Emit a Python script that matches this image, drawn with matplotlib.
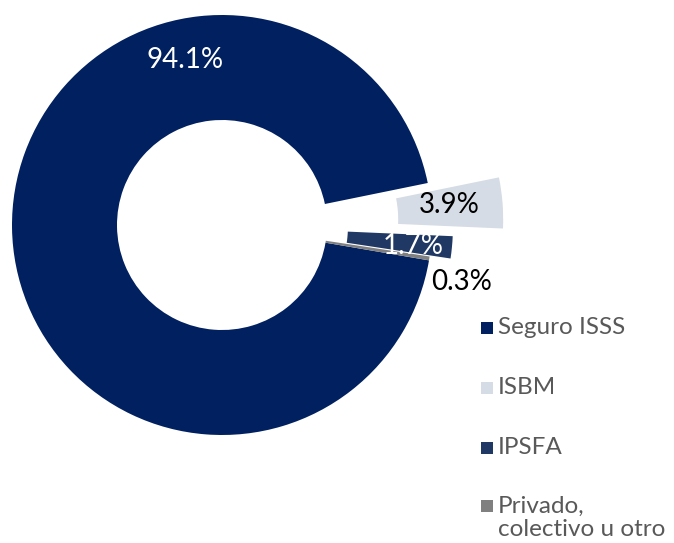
import matplotlib.pyplot as plt
from matplotlib.patches import Rectangle

plt.rcParams['font.family'] = ['Lato', 'DejaVu Sans']

labels = ['Seguro ISSS', 'ISBM', 'IPSFA', 'Privado,\ncolectivo u otro']
values = [94.1, 3.9, 1.7, 0.3]
colors = ['#002060', '#D6DCE5', '#203864', '#808080']
explode = [0, 0.34, 0.1, 0]

# label text, colour and position (data units, pie radius = 1)
pct_text = ['94.1%', '3.9%', '1.7%', '0.3%']
pct_color = ['white', 'black', 'white', 'black']
pct_pos = [(-0.176, 0.786), (1.081, 0.095), (0.910, -0.100), (1.143, -0.271)]

W, H = 674, 543
fig = plt.figure(figsize=(W / 100, H / 100), dpi=100)
ax = fig.add_axes([0, 0, 1, 1])

ax.pie(values, colors=colors, explode=explode, startangle=-9.7,
       counterclock=False, radius=1,
       wedgeprops=dict(width=0.5, linewidth=0))

for txt, c, (x, y) in zip(pct_text, pct_color, pct_pos):
    ax.text(x, y, txt, color=c, fontsize=20, ha='center', va='center')

# centre of the ring at (222, 225) px, radius 210 px
cx, cy, R = 222, 225, 210
ax.set_aspect('auto')
ax.set_xlim(-cx / R, (W - cx) / R)
ax.set_ylim(-(H - cy) / R, cy / R)
ax.axis('off')

# legend
leg_y = [327, 387, 447, 505]
for lab, col, y in zip(labels, colors, leg_y):
    fy = 1 - y / H
    fig.patches.append(Rectangle((481 / W, fy - 6.5 / H), 12 / W, 12 / H,
                                 facecolor=col, transform=fig.transFigure))
    fig.text(498 / W, fy + 9.5 / H, lab, fontsize=17.5, color='#595959',
             ha='left', va='top', linespacing=1.15)

fig.savefig('out.png', dpi=100)
